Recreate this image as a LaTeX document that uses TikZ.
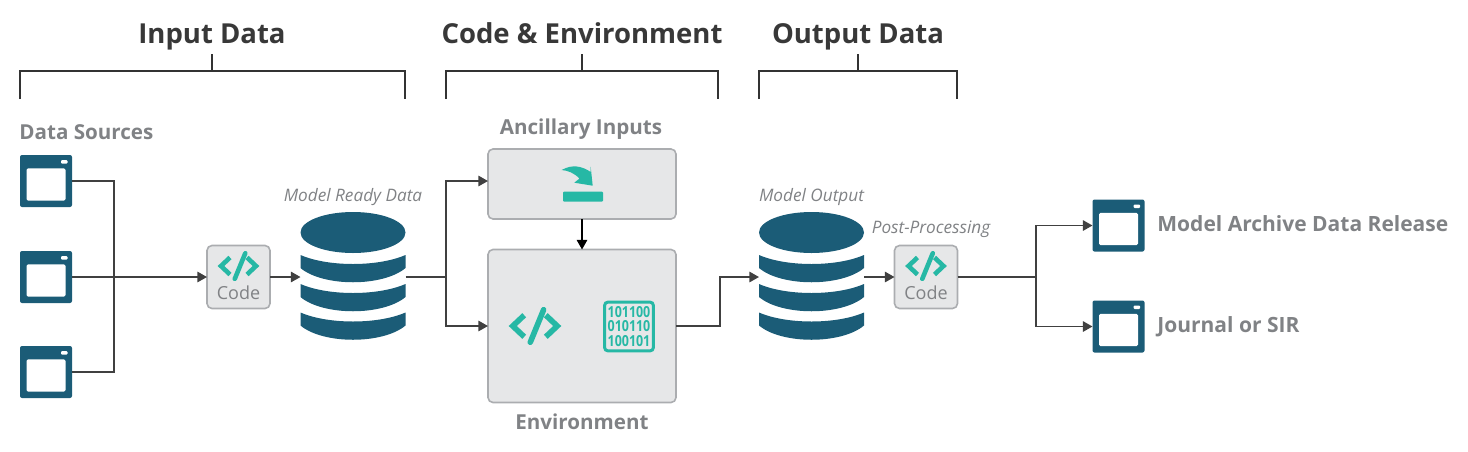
\documentclass[tikz,border=0pt]{standalone}
\usepackage{fontspec}
\setmainfont{Open Sans}
\usetikzlibrary{arrows.meta, positioning}
\definecolor{dbblue}{HTML}{1B5C77}
\definecolor{glyphteal}{HTML}{26B8A5}
\definecolor{boxfill}{HTML}{E6E7E8}
\definecolor{boxline}{HTML}{ABADB0}
\definecolor{labelgray}{HTML}{808285}
\definecolor{linedark}{HTML}{404040}
\tikzset{
  grouptitle/.style={font=\fontsize{13.75}{17}\selectfont\bfseries, text=black!78, text height=11pt, text depth=3pt, inner sep=0pt},
  sublabel/.style={font=\fontsize{10.3}{13}\selectfont\bfseries, text=labelgray, inner sep=0pt},
  itemlabel/.style={font=\fontsize{10.5}{13}\selectfont\bfseries, text=labelgray, inner sep=0pt, anchor=west},
  notelabel/.style={font=\fontsize{8.6}{10}\selectfont\itshape, text=labelgray, inner sep=0pt},
  codetext/.style={font=\fontsize{9}{11}\selectfont, text=labelgray, inner sep=0pt},
  graybox/.style={rectangle, draw=boxline, fill=boxfill, line width=0.8pt, rounded corners=2.5pt, inner sep=0pt, outer sep=0pt},
  codebox/.style={graybox, minimum width=31.5pt, minimum height=31.5pt},
  window/.style={rectangle, fill=dbblue, rounded corners=1pt, inner sep=0pt, outer sep=0pt, minimum size=26pt,
    path picture={
      \begin{scope}[shift={(path picture bounding box.center)}]
        \fill[white, rounded corners=0.8pt] (-19.5,-12.7) rectangle (19.5,19.7);
        \fill[white, rounded corners=0.5pt] (15,-21) rectangle (21.5,-17.5);
      \end{scope}}},
  database/.style={rectangle, inner sep=0pt, outer sep=0pt, minimum width=52.5pt, minimum height=65pt,
    path picture={
      \begin{scope}[shift={(path picture bounding box.center)}]
        \fill[dbblue] (0,-44.5) ellipse [x radius=52.5, y radius=20.5];
        \foreach \bandtop in {-22,7,35.5} {
          \fill[dbblue] (-52.5,\bandtop) .. controls (-25,\bandtop+12) and (25,\bandtop+12) .. (52.5,\bandtop)
            -- (52.5,\bandtop+13) .. controls (30,\bandtop+32) and (-30,\bandtop+32) .. (-52.5,\bandtop+13) -- cycle;
        }
      \end{scope}}},
  bitsbox/.style={rectangle, draw=glyphteal, line width=1.5pt, rounded corners=1.5pt, inner sep=0pt, outer sep=0pt, minimum size=24.3pt},
  bitstext/.style={font=\fontsize{7.6}{7.1}\selectfont\bfseries, text=glyphteal, align=center, inner sep=0pt},
  flow/.style={-{Triangle[length=4.8pt,width=5.2pt]}, line width=0.85pt, draw=linedark, color=linedark},
  wire/.style={line width=0.85pt, draw=linedark},
  bracket/.style={line width=0.85pt, draw=black!80},
  codeglyph/.pic={
    \draw[glyphteal, line width=#1] (-8.5,-8.5) -- (-17.5,0) -- (-8.5,8.5);
    \draw[glyphteal, line width=#1] (8.5,-8.5) -- (17.5,0) -- (8.5,8.5);
    \draw[glyphteal, line width=#1, line cap=round] (6.8,-12.8) -- (-3.7,12.8);
  },
}
\begin{document}
\begin{tikzpicture}[x=0.5pt, y=-0.5pt]
  \useasboundingbox (0,0) rectangle (1468,451);

  % group titles and brackets
  \node[grouptitle] (inputTitle) at (212,35) {Input Data};
  \node[grouptitle] (envTitle) at (582,35) {Code \& Environment};
  \node[grouptitle] (outputTitle) at (858,35) {Output Data};

  \coordinate (inputL) at (20,99);
  \coordinate (inputR) at (405,99);
  \coordinate (envL) at (446,99);
  \coordinate (envR) at (718,99);
  \coordinate (outputL) at (759,99);
  \coordinate (outputR) at (957,99);
  \draw[bracket] (inputL) -- ++(0,-28) -| (inputR);
  \draw[bracket] (envL) -- ++(0,-28) -| (envR);
  \draw[bracket] (outputL) -- ++(0,-28) -| (outputR);
  \draw[bracket] (212,71) -- (212,54);
  \draw[bracket] (582,71) -- (582,54);
  \draw[bracket] (858,71) -- (858,54);

  % data sources
  \node[sublabel, anchor=west] (sourcesLabel) at (19,132) {Data Sources};
  \node[window] (sourceA) at (46,181) {};
  \node[window] (sourceB) at (46,277) {};
  \node[window] (sourceC) at (46,372) {};
  \node[codebox] (codeA) at (238.5,277) {};
  \pic at (238.5,266) {codeglyph=2.3pt};
  \node[codetext] (codeAText) at (238.5,293) {Code};

  \coordinate (sourceBus) at (114,277);
  \draw[wire] (sourceA) -| (sourceBus);
  \draw[wire] (sourceC) -| (sourceBus);
  \draw[flow] (sourceB) -- (codeA);

  % model ready data
  \node[database] (readyData) at (353,277) {};
  \node[notelabel, above=3pt of readyData] (readyLabel) {Model Ready Data};
  \draw[flow] (codeA) -- (readyData);

  % ancillary inputs and environment
  \node[graybox, minimum width=94pt, minimum height=35pt] (ancillary) at (582,184) {};
  \node[sublabel] (ancillaryLabel) at (581,129.5) {Ancillary Inputs};
  \fill[glyphteal, rounded corners=0.5pt] (563,191.7) rectangle (603,201.7);
  \fill[glyphteal] (561.7,170) .. controls (572,164) and (582,166) .. (590.7,172) -- (590.7,166.7)
    -- (592.7,185.7) -- (574.3,182.7) -- (579.5,178.5) .. controls (574,173) and (568,170.5) .. (561.7,170) -- cycle;

  \node[graybox, minimum width=94pt, minimum height=76.5pt] (environment) at (582,326) {};
  \node[sublabel, below=5.5pt of environment] (environmentLabel) {Environment};
  \pic[scale=1.27] at (535,326) {codeglyph=2.8pt};
  \node[bitsbox] (bits) at (629,326.5) {};
  \node[bitstext] (bitsText) at (629,326.5) {\scalebox{0.82}[1]{101100}\\\scalebox{0.82}[1]{010110}\\\scalebox{0.82}[1]{100101}};

  \coordinate (readySplit) at (446,277);
  \draw[wire] (readyData) -- (readySplit);
  \draw[flow] (readySplit) |- ([yshift=1.5pt]ancillary.west);
  \draw[flow] (readySplit) |- (environment);
  \draw[flow, draw=black, color=black] (ancillary) -- (environment);

  % model output and post-processing
  \node[database] (modelOutput) at (811.5,277) {};
  \node[notelabel, above=3pt of modelOutput] (outputLabel) {Model Output};
  \draw[flow] (environment.east) -- (720,326) |- (modelOutput);

  \node[codebox] (codeB) at (926,277) {};
  \pic at (926,266) {codeglyph=2.3pt};
  \node[codetext] (codeBText) at (926,293) {Code};
  \node[notelabel] (postLabel) at (931,229) {Post-Processing};
  \draw[flow] (modelOutput) -- (codeB);

  % outputs
  \node[window] (releaseWin) at (1118.5,225.5) {};
  \node[window] (journalWin) at (1118.5,326.5) {};
  \node[itemlabel] (releaseLabel) at (1157,224) {Model Archive Data Release};
  \node[itemlabel] (journalLabel) at (1157,327) {Journal or SIR};

  \coordinate (codeSplit) at (1036,277);
  \draw[wire] (codeB) -- (codeSplit);
  \draw[flow] (codeSplit) |- (releaseWin);
  \draw[flow] (codeSplit) |- (journalWin);
\end{tikzpicture}
\end{document}
